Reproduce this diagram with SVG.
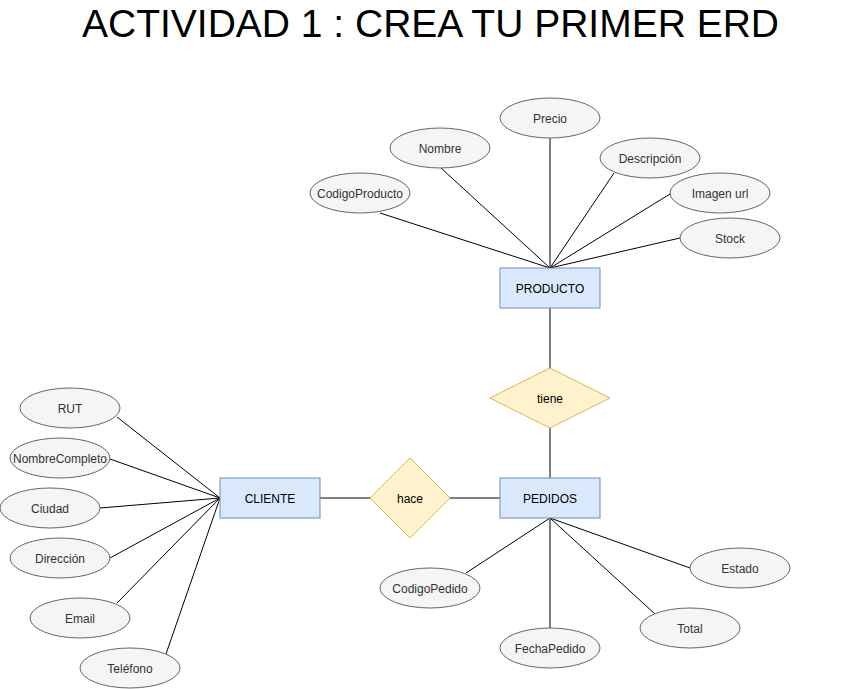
<svg xmlns="http://www.w3.org/2000/svg" width="841" height="689" viewBox="0 0 841 689">
<style>
  text { font-family: "Liberation Sans", Arial, Helvetica, sans-serif; font-size: 12px; text-anchor: middle; dominant-baseline: central; }
  .attr text, .ent text, .rel text { transform: translateY(1px); }
  .attr ellipse { fill: #f5f5f5; stroke: #666666; stroke-width: 1; }
  .attr text { fill: #333333; }
  .ent rect { fill: #dae8fc; stroke: #6c8ebf; stroke-width: 1; }
  .ent text { fill: #000000; }
  .rel polygon { fill: #fff2cc; stroke: #d6b656; stroke-width: 1; }
  .rel text { fill: #000000; }
  #connectors line { stroke: #000000; stroke-width: 1; }
  .title { font-size: 39px; fill: #000000; dominant-baseline: auto; }
</style>
<rect width="841" height="689" fill="#ffffff"/>
<text class="title" x="430.5" y="36.5">ACTIVIDAD 1 : CREA TU PRIMER ERD</text>

<g id="connectors">
  <!-- PRODUCTO attributes -->
  <line x1="550" y1="268" x2="380" y2="213"/>
  <line x1="550" y1="268" x2="441" y2="168"/>
  <line x1="550" y1="268" x2="550" y2="138"/>
  <line x1="550" y1="268" x2="614" y2="173"/>
  <line x1="550" y1="268" x2="670" y2="194"/>
  <line x1="550" y1="268" x2="680" y2="238"/>
  <!-- relationships -->
  <line x1="550" y1="308" x2="550" y2="368"/>
  <line x1="550" y1="428" x2="550" y2="478"/>
  <line x1="320" y1="498" x2="370" y2="498"/>
  <line x1="450" y1="498" x2="500" y2="498"/>
  <!-- PEDIDOS attributes -->
  <line x1="550" y1="518" x2="466" y2="573"/>
  <line x1="550" y1="518" x2="550" y2="628"/>
  <line x1="550" y1="518" x2="655" y2="614"/>
  <line x1="550" y1="518" x2="690" y2="568"/>
  <!-- CLIENTE attributes -->
  <line x1="220" y1="498" x2="117" y2="417"/>
  <line x1="220" y1="498" x2="110" y2="459"/>
  <line x1="220" y1="498" x2="100" y2="508"/>
  <line x1="220" y1="498" x2="110" y2="558"/>
  <line x1="220" y1="498" x2="117" y2="603"/>
  <line x1="220" y1="498" x2="166" y2="654"/>
</g>

<!-- Entities -->
<g id="producto" class="ent"><rect x="500" y="268" width="100" height="40"/><text x="550" y="288">PRODUCTO</text></g>
<g id="pedidos" class="ent"><rect x="500" y="478" width="100" height="40"/><text x="550" y="498">PEDIDOS</text></g>
<g id="cliente" class="ent"><rect x="220" y="478" width="100" height="40"/><text x="270" y="498">CLIENTE</text></g>

<!-- Relationships -->
<g id="tiene" class="rel"><polygon points="550,368 610,398 550,428 490,398"/><text x="550" y="398">tiene</text></g>
<g id="hace" class="rel"><polygon points="410,458 450,498 410,538 370,498"/><text x="410" y="498">hace</text></g>

<!-- PRODUCTO attributes -->
<g id="codigoproducto" class="attr"><ellipse cx="360" cy="193" rx="50" ry="20"/><text x="360" y="193">CodigoProducto</text></g>
<g id="nombre" class="attr"><ellipse cx="440" cy="148" rx="50" ry="20"/><text x="440" y="148">Nombre</text></g>
<g id="precio" class="attr"><ellipse cx="550" cy="118" rx="50" ry="20"/><text x="550" y="118">Precio</text></g>
<g id="descripcion" class="attr"><ellipse cx="650" cy="158" rx="50" ry="20"/><text x="650" y="158">Descripción</text></g>
<g id="imagenurl" class="attr"><ellipse cx="720" cy="193" rx="50" ry="20"/><text x="720" y="193">Imagen url</text></g>
<g id="stock" class="attr"><ellipse cx="730" cy="238" rx="50" ry="20"/><text x="730" y="238">Stock</text></g>

<!-- PEDIDOS attributes -->
<g id="codigopedido" class="attr"><ellipse cx="430" cy="588" rx="50" ry="20"/><text x="430" y="588">CodigoPedido</text></g>
<g id="fechapedido" class="attr"><ellipse cx="550" cy="648" rx="50" ry="20"/><text x="550" y="648">FechaPedido</text></g>
<g id="total" class="attr"><ellipse cx="690" cy="628" rx="50" ry="20"/><text x="690" y="628">Total</text></g>
<g id="estado" class="attr"><ellipse cx="740" cy="568" rx="50" ry="20"/><text x="740" y="568">Estado</text></g>

<!-- CLIENTE attributes -->
<g id="rut" class="attr"><ellipse cx="70" cy="408" rx="50" ry="20"/><text x="70" y="408">RUT</text></g>
<g id="nombrecompleto" class="attr"><ellipse cx="60" cy="458" rx="50" ry="20"/><text x="60" y="458">NombreCompleto</text></g>
<g id="ciudad" class="attr"><ellipse cx="50" cy="508" rx="50" ry="20"/><text x="50" y="508">Ciudad</text></g>
<g id="direccion" class="attr"><ellipse cx="60" cy="558" rx="50" ry="20"/><text x="60" y="558">Dirección</text></g>
<g id="email" class="attr"><ellipse cx="80" cy="618" rx="50" ry="20"/><text x="80" y="618">Email</text></g>
<g id="telefono" class="attr"><ellipse cx="130" cy="668" rx="50" ry="20"/><text x="130" y="668">Teléfono</text></g>
</svg>
